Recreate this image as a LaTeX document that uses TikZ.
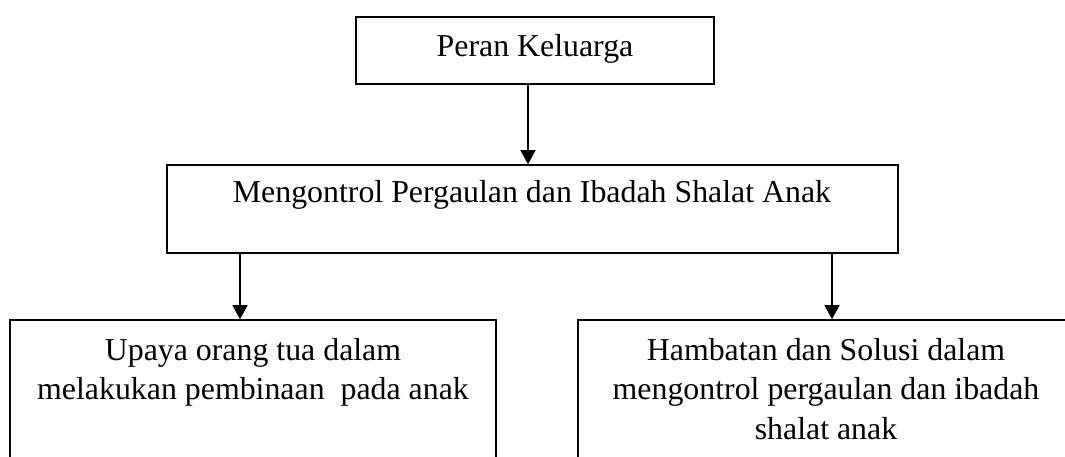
\documentclass[tikz,border=0pt]{standalone}
\usepackage{fontspec}
\setmainfont{Liberation Serif}
\usetikzlibrary{arrows.meta}
\begin{document}
\begin{tikzpicture}[x=1pt,y=-1pt,
  boxnode/.style={draw, line width=1.6pt, inner sep=0pt},
  txt/.style={inner sep=0pt, font=\fontsize{31.85}{39.5}\selectfont},
  arr/.style={line width=1.6pt, -{Triangle[length=14pt,width=15pt]}}]
\useasboundingbox (0,0) rectangle (1065,457);
\clip (0,0) rectangle (1065,457);
% boxes
\node[boxnode, minimum width=358pt, minimum height=67pt] (top) at (535,50.5) {};
\node[boxnode, minimum width=731pt, minimum height=88pt] (mid) at (532.5,209) {};
\node[boxnode, minimum width=486pt, minimum height=180pt] (left) at (253,410) {};
\node[boxnode, minimum width=504pt, minimum height=180pt] (right) at (830,410) {};
% texts
\node[txt, anchor=base] (toptext) at (535,57) {Peran Keluarga};
\node[txt, anchor=base] (midtext) at (532,203) {Mengontrol Pergaulan dan Ibadah Shalat Anak};
\node[txt, anchor=north, align=center] (lefttext) at (253,338) {Upaya orang tua dalam\\melakukan pembinaan\ \ pada anak};
\node[txt, anchor=north, align=center] (righttext) at (826,338) {Hambatan dan Solusi dalam\\mengontrol pergaulan dan ibadah\\shalat anak};
% arrows
\coordinate (ax1) at (528,0);
\coordinate (ax2) at (240,0);
\coordinate (ax3) at (832,0);
\draw[arr] (ax1 |- top.south) -- (ax1 |- mid.north);
\draw[arr] (ax2 |- mid.south) -- (ax2 |- left.north);
\draw[arr] (ax3 |- mid.south) -- (ax3 |- right.north);
\end{tikzpicture}
\end{document}
